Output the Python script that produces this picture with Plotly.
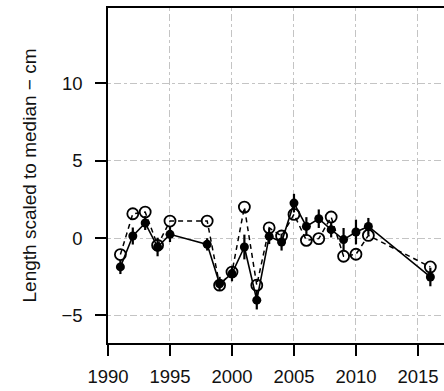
import plotly.graph_objects as go

# Annual length index (filled) with its uncertainty, and the alternative index (open)
years = [1991, 1992, 1993, 1994, 1995, 1998, 1999, 2000, 2001, 2002,
         2003, 2004, 2005, 2006, 2007, 2008, 2009, 2010, 2011, 2016]
index_main = [-1.87, 0.13, 0.97, -0.58, 0.24, -0.41, -2.96, -2.30, -0.58, -4.02,
              0.11, -0.26, 2.26, 0.75, 1.25, 0.54, -0.10, 0.39, 0.75, -2.52]
index_err = [0.46, 0.55, 0.45, 0.60, 0.50, 0.40, 0.45, 0.50, 0.80, 0.60,
             0.50, 0.55, 0.60, 0.60, 0.60, 0.50, 0.75, 0.80, 0.55, 0.60]
index_alt = [-1.07, 1.57, 1.68, -0.47, 1.10, 1.10, -3.05, -2.20, 2.00, -3.05,
             0.66, 0.13, 1.53, -0.15, -0.04, 1.36, -1.18, -1.05, 0.17, -1.87]

x_ticks = [1990, 1995, 2000, 2005, 2010, 2015]
y_ticks = [-5, 0, 5, 10]

FONT = "Liberation Sans, Arial, sans-serif"
GRID = "3px,3px,7px,3px"

fig = go.Figure()

fig.add_trace(go.Scatter(
    x=years, y=index_alt, mode="lines+markers",
    line=dict(color="black", width=1.5, dash="5px,4px"),
    marker=dict(symbol="circle-open", size=11, color="black",
                line=dict(width=1.8, color="black")),
    showlegend=False,
))

fig.add_trace(go.Scatter(
    x=years, y=index_main, mode="lines+markers",
    line=dict(color="black", width=1.6),
    marker=dict(symbol="circle", size=9, color="black"),
    error_y=dict(type="data", array=index_err, visible=True,
                 color="black", thickness=2.2, width=0),
    showlegend=False,
))

fig.update_layout(
    width=444, height=391,
    margin=dict(l=108, r=0, t=8, b=48),
    plot_bgcolor="white", paper_bgcolor="white",
    font=dict(family=FONT, size=18.5, color="#111"),
)

fig.update_xaxes(
    range=[1990, 2017.1], tickvals=x_ticks,
    showline=True, linecolor="black", linewidth=1.6, mirror=True,
    ticks="outside", ticklen=11, tickwidth=1.6, tickcolor="black",
    ticklabelstandoff=5,
    showgrid=True, gridcolor="#c4c4c4", gridwidth=1.3, griddash=GRID,
    zeroline=False,
)

fig.update_yaxes(
    range=[-6.79, 14.88], tickvals=y_ticks,
    tickmode="array", ticktext=["\u22125", "0", "5", "10"],
    showline=True, linecolor="black", linewidth=1.6, mirror=False,
    ticks="outside", ticklen=11, tickwidth=1.6, tickcolor="black",
    ticklabelstandoff=9,
    showgrid=True, gridcolor="#c4c4c4", gridwidth=1.3, griddash=GRID,
    zeroline=False,
    title=dict(text="Length scaled to median \u2212 cm", standoff=20,
               font=dict(size=19)),
)

fig.write_html("out.html")
